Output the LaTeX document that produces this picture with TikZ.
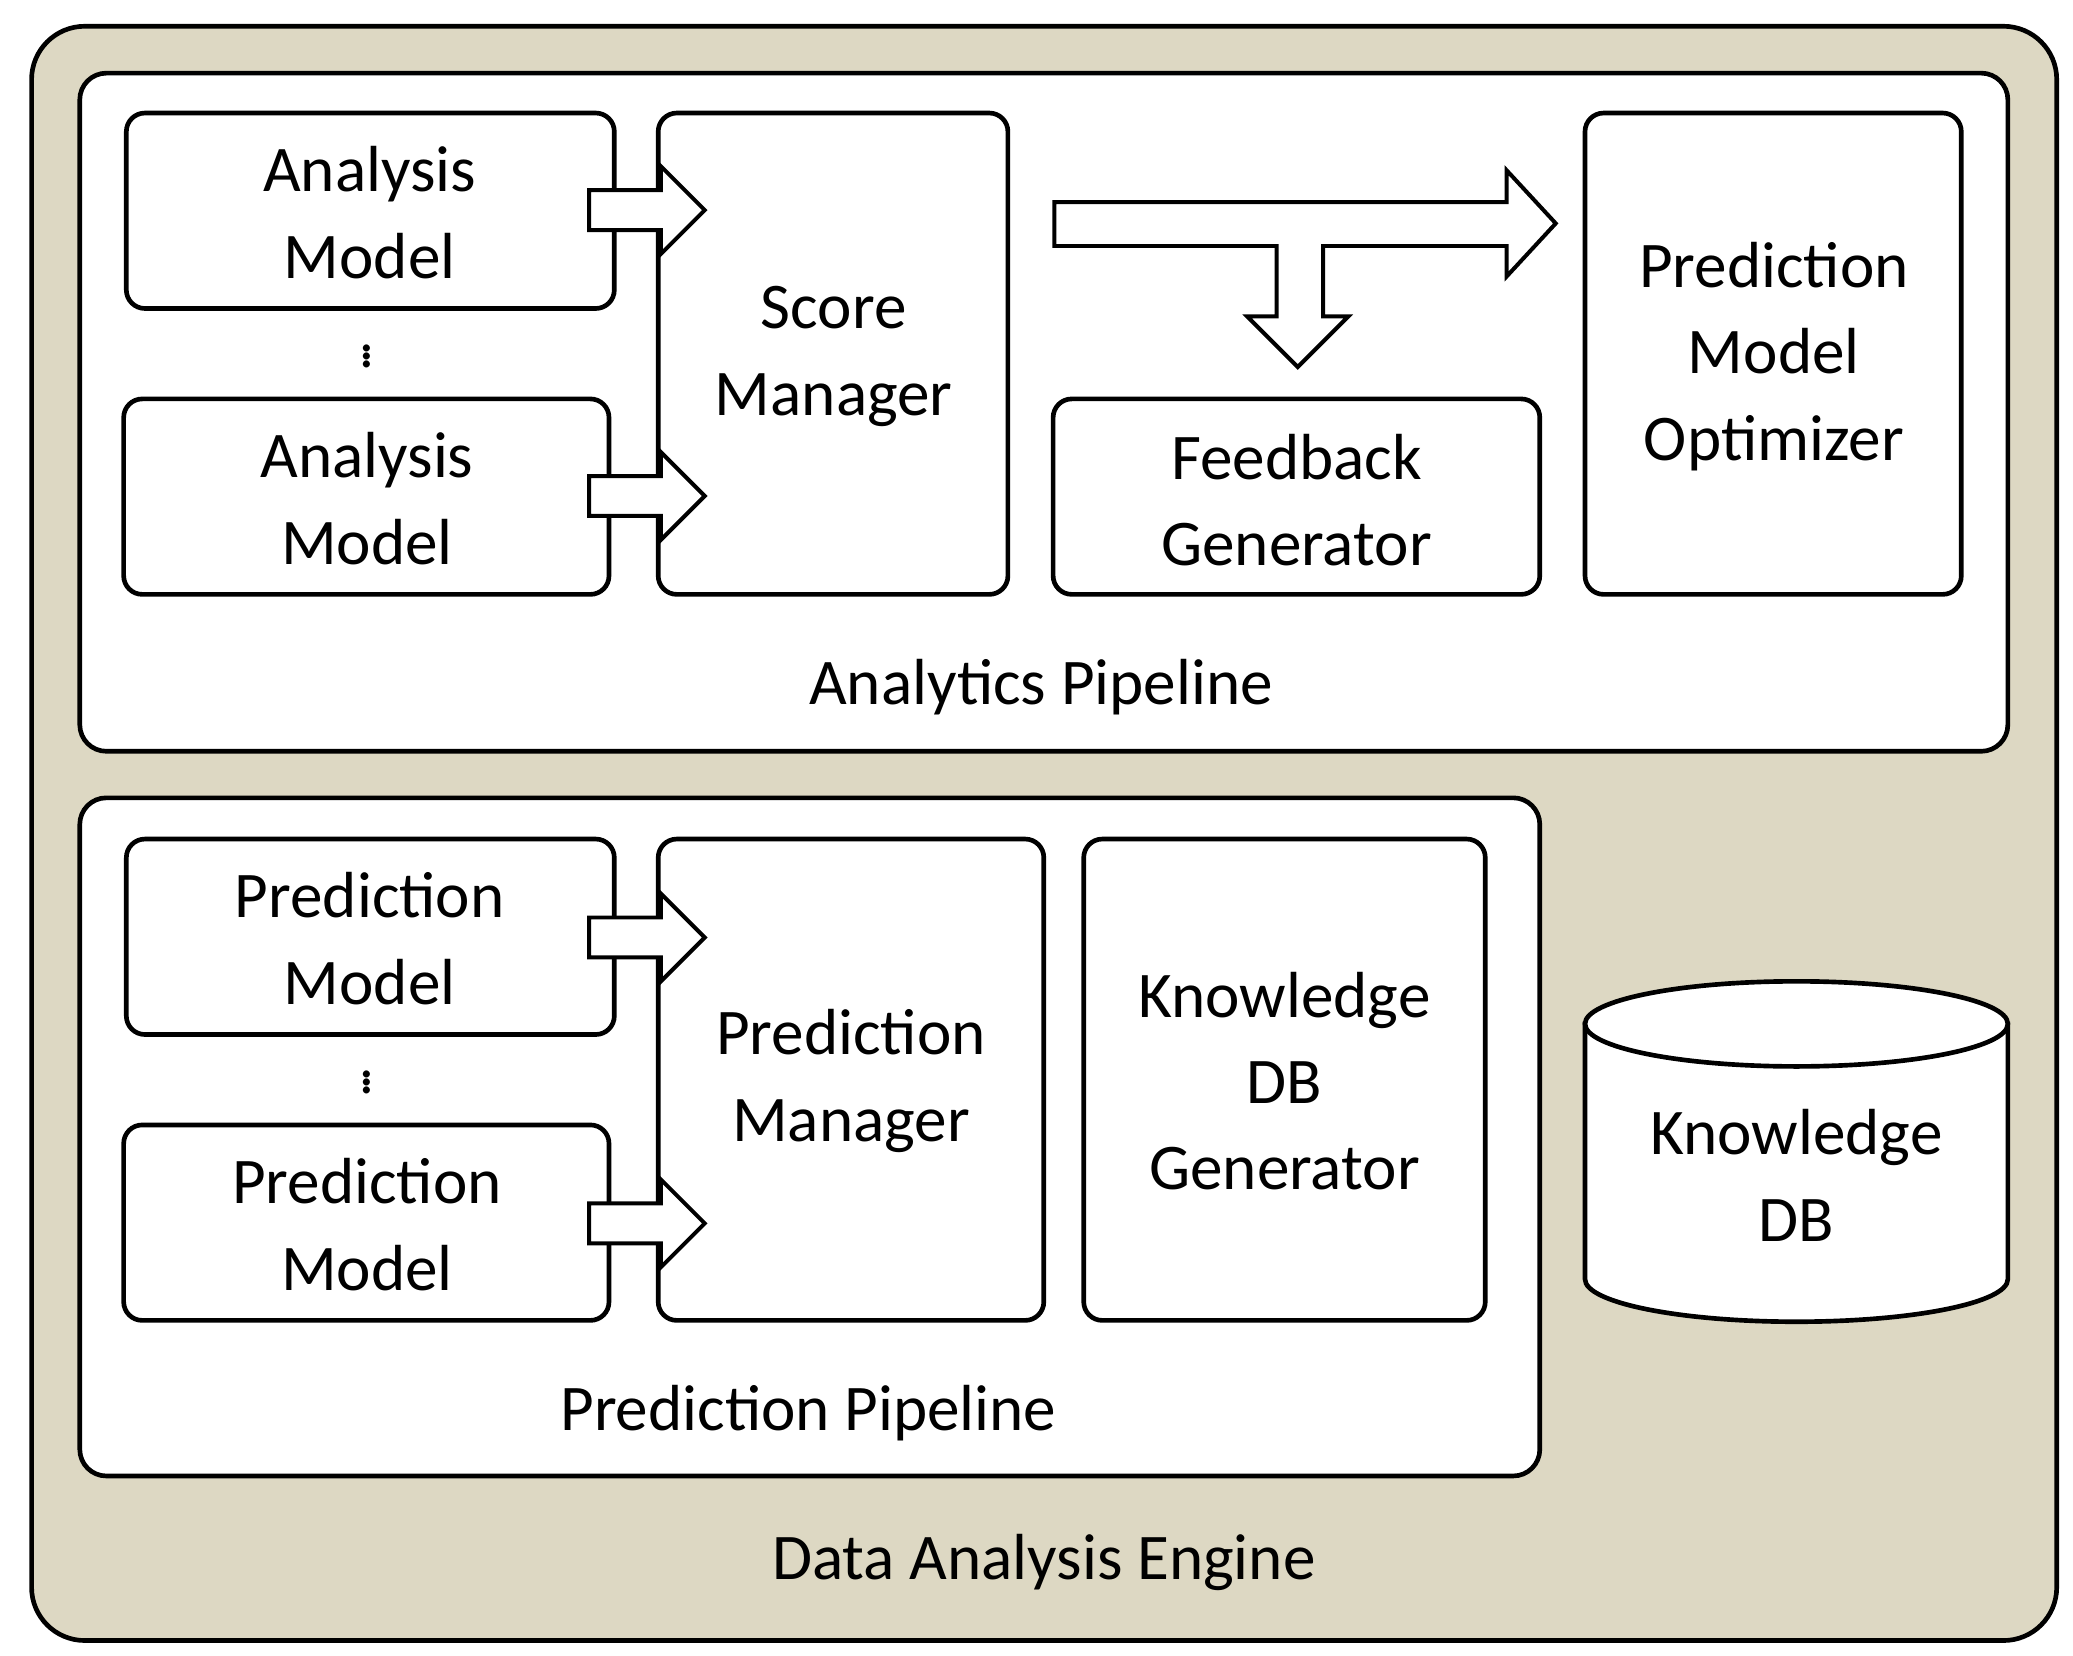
\documentclass[tikz,border=0pt]{standalone}
\usepackage{fontspec}
\setmainfont{Carlito}
\usetikzlibrary{shapes.geometric,calc}
\definecolor{beige}{RGB}{221,216,195}
\begin{document}
\begin{tikzpicture}[x=1pt,y=-1pt,
  box/.style={draw,line width=3.5pt,rounded corners=14pt,fill=white},
  lbl/.style={font=\fontsize{49}{65}\selectfont,align=center},
  dts/.style={font=\fontsize{44}{44}\selectfont,inner sep=0pt},
  barrow/.style={draw,line width=3pt,fill=white,line join=miter}]
\useasboundingbox (0,0) rectangle (1559,1245);
\node[draw,line width=3.5pt,rounded corners=40pt,fill=beige,minimum width=1523pt,minimum height=1214pt,anchor=north west] (eng) at (22,18) {};
\node[lbl] (englbl) at (785,1175) {Data Analysis Engine};
% analytics pipeline
\draw[box,rounded corners=20pt] (60,55) rectangle (1510,565);
\node[lbl] (aplbl) at (783,517) {Analytics Pipeline};
\draw[box] (95,85) rectangle (462,232); \node[lbl] (am1) at (278,160) {Analysis\\Model};
\draw[box] (93,300) rectangle (458,447); \node[lbl] (am2) at (276,375) {Analysis\\Model};
\node[dts] (dots1) at (276,265) {$\vdots$};
\draw[box] (495,85) rectangle (758,447); \node[lbl] (sm) at (627,268) {Score\\Manager};
\draw[box] (792,300) rectangle (1158,447); \node[lbl] (fg) at (975,376) {Feedback\\Generator};
\draw[box] (1192,85) rectangle (1475,447); \node[lbl] (pmo) at (1334,268) {Prediction\\Model\\Optimizer};
\draw[barrow] (793,152) -- (1133,152) -- (1133,128) -- (1170,168) -- (1133,208) -- (1133,185) -- (995,185) -- (995,238) -- (1014,238) -- (976,276) -- (938,238) -- (960,238) -- (960,185) -- (793,185) -- cycle;
% prediction pipeline
\draw[box,rounded corners=20pt] (60,600) rectangle (1158,1110);
\node[lbl] (pplbl) at (608,1063) {Prediction Pipeline};
\draw[box] (95,631) rectangle (462,778); \node[lbl] (pm1) at (278,706) {Prediction\\Model};
\draw[box] (93,846) rectangle (458,993); \node[lbl] (pm2) at (276,921) {Prediction\\Model};
\node[dts] (dots2) at (276,811) {$\vdots$};
\draw[box] (495,631) rectangle (785,993); \node[lbl] (pmg) at (640,813) {Prediction\\Manager};
\draw[box] (815,631) rectangle (1117,993); \node[lbl] (kdg) at (966,813) {Knowledge\\DB\\Generator};
\foreach \y in {158,373,705,920}{
  \draw[barrow] (443,\y-15) -- (497,\y-15) -- (497,\y-33) -- (530,\y) -- (497,\y+33) -- (497,\y+15) -- (443,\y+15) -- cycle;}
% cylinder
\draw[line width=3.5pt,fill=white] (1192,770) -- (1192,962) arc[start angle=180,end angle=0,x radius=159,y radius=32] -- (1510,770) -- cycle;
\draw[line width=3.5pt,fill=white] (1351,770) ellipse[x radius=159,y radius=32];
\node[lbl] (kdb) at (1351,884) {Knowledge\\DB};
\end{tikzpicture}
\end{document}
